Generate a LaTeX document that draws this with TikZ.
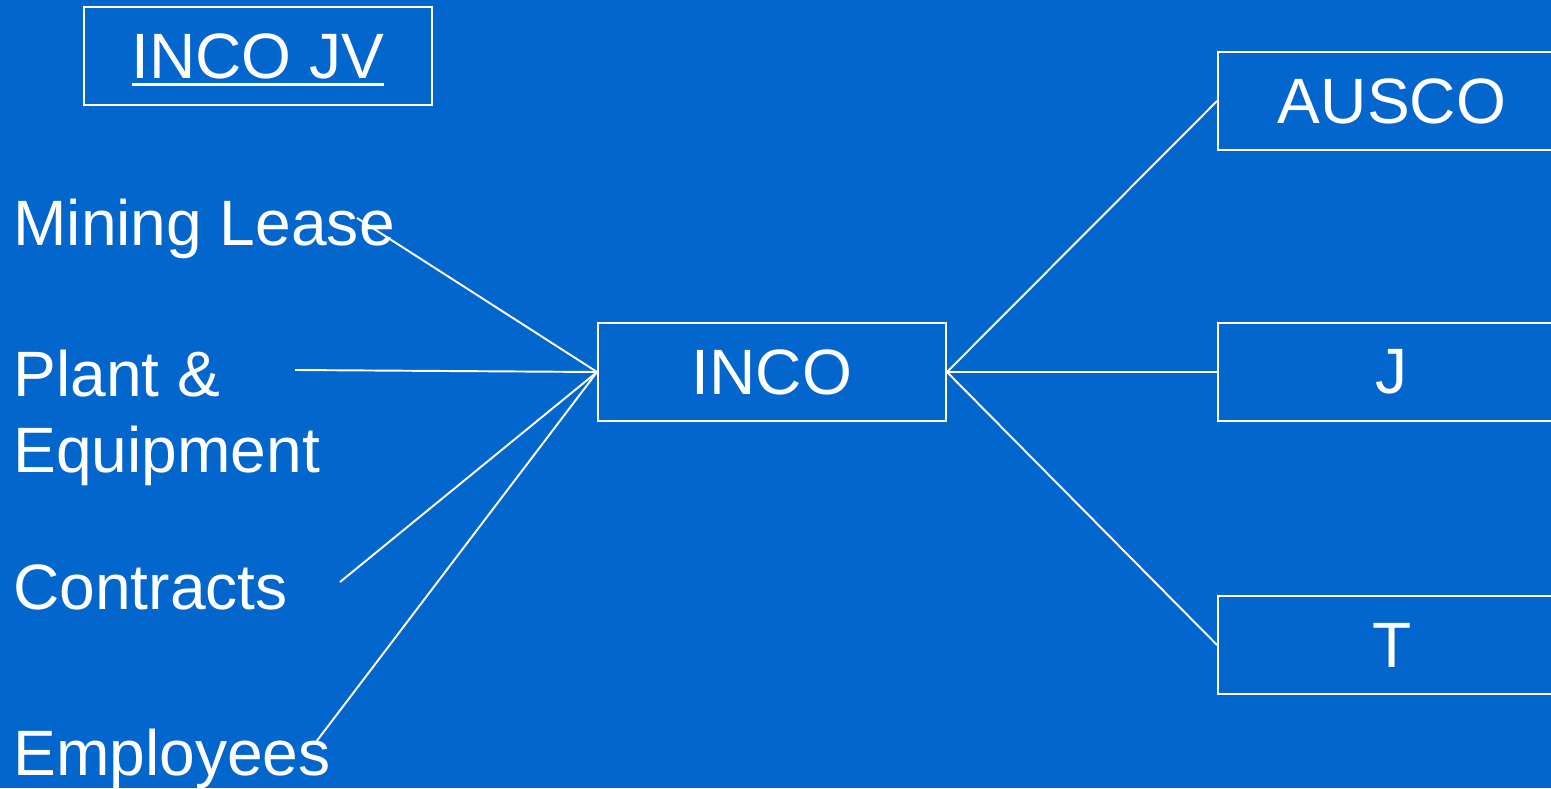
\documentclass[tikz,border=0pt]{standalone}
\usepackage{fontspec}
\setmainfont{Liberation Sans}
\definecolor{slideblue}{RGB}{3,102,204}
\def\titleline#1{\setbox0\hbox{#1}\rlap{\rule[-0.125em]{\wd0}{0.06em}}\box0}

\begin{document}
\begin{tikzpicture}[x=0.02cm,y=-0.02cm,
	every node/.style={text=white,inner sep=0pt,font=\fontsize{36.5}{43}\selectfont},
	box/.style={draw=white,line width=1.1pt,minimum width=6.96cm,minimum height=1.96cm},
	link/.style={draw=white,line width=1.1pt}]
			%%%%% START %%%%%
			
			\useasboundingbox (0,0) rectangle (1551,788);
			\clip (0,0) rectangle (1551,788);
			\fill[slideblue] (0,0) rectangle (1551,788);
			
			\node[box,text depth=0pt] (jv) at (258,56) {\titleline{INCO JV}};
			
			\node[anchor=base west] (lease) at (13,245) {Mining Lease};
			\node[anchor=base west,align=left] (plant) at (13,472) {Plant \&\\Equipment};
			\node[anchor=base west] (contracts) at (13,609) {Contracts};
			\node[anchor=base west] (employees) at (13,775) {Employees};
			
			\node[box] (inco) at (772,372) {INCO};
			
			\node[box] (ausco) at (1392,101) {AUSCO};
			\node[box] (j) at (1392,372) {J};
			\node[box] (t) at (1392,645) {T};
			
			\coordinate (leaseEnd) at (357,218);
			\coordinate (plantEnd) at (295,370);
			\coordinate (contractsEnd) at (340,582);
			\coordinate (employeesEnd) at (316,742);
			
			\draw[link] (leaseEnd) -- (inco.west);
			\draw[link] (plantEnd) -- (inco.west);
			\draw[link] (contractsEnd) -- (inco.west);
			\draw[link] (employeesEnd) -- (inco.west);
			
			\draw[link] (inco.east) -- (ausco.west);
			\draw[link] (inco.east) -- (j.west);
			\draw[link] (inco.east) -- (t.west);
			
			%%%%% END %%%%%
		\end{tikzpicture}
\end{document}
